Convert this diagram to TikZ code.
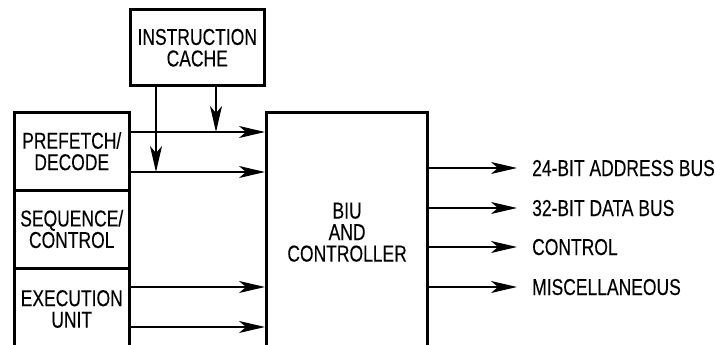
\documentclass[tikz,border=0pt]{standalone}
\usepackage{fontspec}
\setmainfont{Liberation Sans}[FakeStretch=0.76,FakeBold=0.2]
\usetikzlibrary{arrows.meta}
\begin{document}
\begin{tikzpicture}[x=1pt,y=-1pt,
  box/.style={draw, line width=3pt, inner sep=0pt, align=center,
    font=\fontsize{23}{21.5}\selectfont},
  arr/.style={line width=1.5pt, -{Stealth[length=26pt,width=12pt,inset=7pt]}},
  lbl/.style={anchor=west, inner xsep=15pt, inner ysep=0pt, text height=16pt, text depth=0pt,
    font=\fontsize{23}{21.5}\selectfont}]
\useasboundingbox (0,0) rectangle (715,345);
\clip (0,0) rectangle (715,345);
% boxes
\node[box, minimum width=134.5pt, minimum height=76.5pt] (cache) at (197.25,47.75) {INSTRUCTION\\CACHE};
\node[box, minimum width=115.5pt, minimum height=77.5pt] (prefetch) at (71.75,151.25) {PREFETCH/\\DECODE};
\node[box, minimum width=115.5pt, minimum height=78pt] (sequence) at (71.75,229) {SEQUENCE/\\CONTROL};
\node[box, minimum width=115.5pt, minimum height=82pt] (execution) at (71.75,309) {EXECUTION\\UNIT};
\node[box, minimum width=161.2pt, minimum height=239.5pt] (biu) at (347.1,232.25) {BIU\\AND\\CONTROLLER};
% helper coordinates
\coordinate (h1) at (0,132);
\coordinate (h2) at (0,172);
\coordinate (h3) at (0,287);
\coordinate (h4) at (0,327);
\coordinate (v1) at (156,172);
\coordinate (v2) at (216,132);
% left arrows
\draw[arr] (prefetch.east |- h1) -- (biu.west |- h1);
\draw[arr] (prefetch.east |- h2) -- (biu.west |- h2);
\draw[arr] (execution.east |- h3) -- (biu.west |- h3);
\draw[arr] (execution.east |- h4) -- (biu.west |- h4);
% cache arrows
\draw[arr] (cache.south -| v1) -- (v1);
\draw[arr] (cache.south -| v2) -- (v2);
% right labels
\node[lbl] (o1) at (517,168) {24-BIT ADDRESS BUS};
\node[lbl] (o2) at (517,208) {32-BIT DATA BUS};
\node[lbl] (o3) at (517,247) {CONTROL};
\node[lbl] (o4) at (517,287) {MISCELLANEOUS};
\draw[arr] (biu.east |- o1.west) -- (o1.west);
\draw[arr] (biu.east |- o2.west) -- (o2.west);
\draw[arr] (biu.east |- o3.west) -- (o3.west);
\draw[arr] (biu.east |- o4.west) -- (o4.west);
\end{tikzpicture}
\end{document}
